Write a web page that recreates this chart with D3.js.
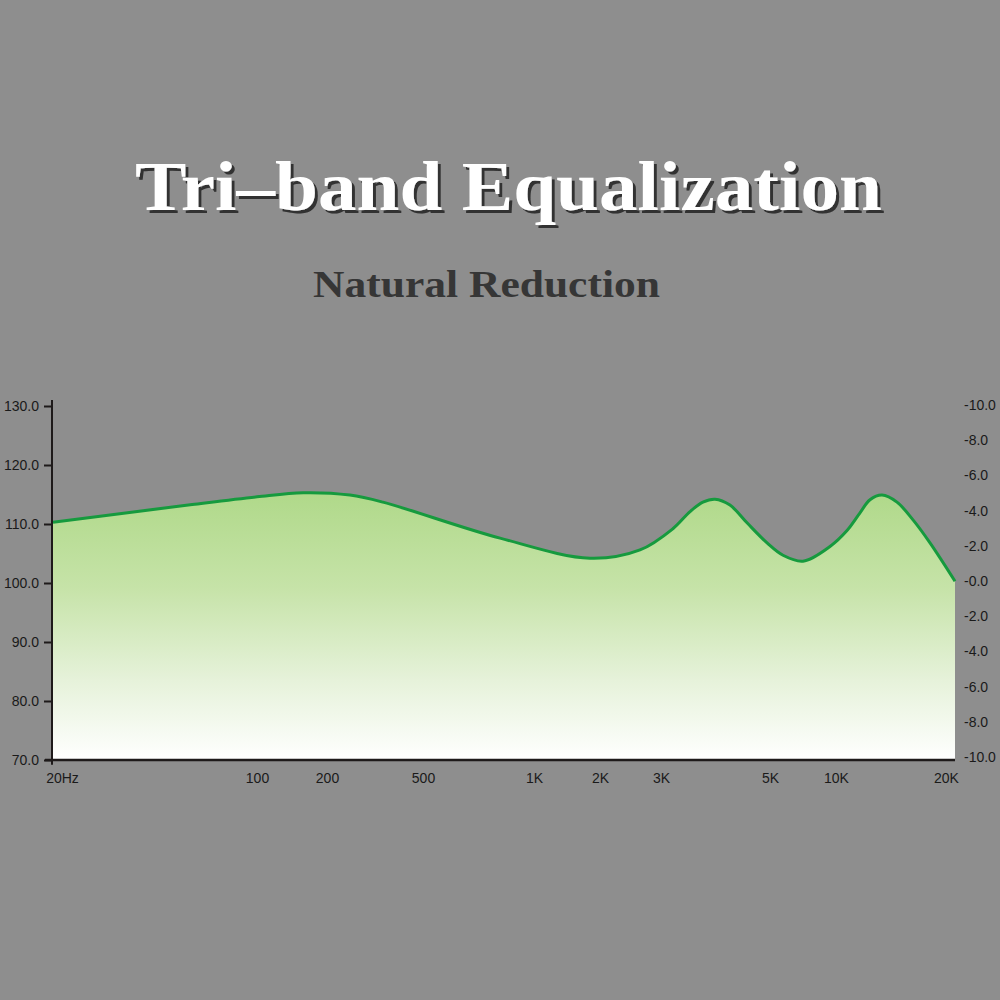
<!DOCTYPE html>
<html><head><meta charset="utf-8">
<script src="https://cdn.jsdelivr.net/npm/d3@7"></script>
<style>html,body{margin:0;padding:0;background:#8e8e8e;}svg{display:block;}</style>
</head><body>
<script>
// ---- data ----
const title = "Tri–band Equalization";
const subtitle = "Natural Reduction";
const freqTicks = [20, 100, 200, 500, 1000, 2000, 3000, 5000, 10000, 20000];
const freqLabels = ["20Hz", "100", "200", "500", "1K", "2K", "3K", "5K", "10K", "20K"];
const leftTicks = [70, 80, 90, 100, 110, 120, 130];
const rightTickLabels = ["-10.0", "-8.0", "-6.0", "-4.0", "-2.0", "-0.0", "-2.0", "-4.0", "-6.0", "-8.0", "-10.0"];
const curveFreq = [20, 60, 100, 158, 249, 341, 809, 1800, 2609, 3172, 3437, 3651, 3865, 4145, 4489, 4931, 5731, 7071, 9389, 10662, 11500, 12190, 13075, 14265, 15660, 17290, 20000];
const curveDb   = [110.3, 113.3, 114.6, 115.3, 114.9, 113.7, 107.6, 104.2, 105.6, 109.2, 112.1, 113.7, 114.2, 113.2, 110.2, 106.8, 104.7, 103.7, 106.2, 108.9, 111.9, 114.1, 114.9, 113.7, 110.7, 106.8, 100.3];

const W = 1000, H = 1000;
const svg = d3.select("body").append("svg").attr("width", W).attr("height", H);
svg.append("rect").attr("width", W).attr("height", H).attr("fill", "#8e8e8e");

const defs = svg.append("defs");
const sh = defs.append("filter").attr("id", "shadow").attr("x", "-5%").attr("y", "-20%").attr("width", "110%").attr("height", "140%");
sh.append("feDropShadow").attr("dx", 3).attr("dy", 3).attr("stdDeviation", 0.6).attr("flood-color", "#333333").attr("flood-opacity", 1);

// title + subtitle
const tg = svg.append("g").attr("font-family", "'Liberation Serif','Times New Roman',serif").attr("font-weight", "bold");
tg.append("text").attr("x", 135).attr("y", 210).attr("font-size", 70).attr("fill", "#ffffff")
  .attr("filter", "url(#shadow)")
  .attr("textLength", 747).attr("lengthAdjust", "spacingAndGlyphs").text(title);
tg.append("text").attr("x", 313).attr("y", 297).attr("font-size", 38).attr("fill", "#363636")
  .attr("textLength", 347).attr("lengthAdjust", "spacingAndGlyphs").text(subtitle);

// scales
const tickPos = [53, 257, 327, 423, 534, 600, 661, 770, 836, 955];
const xl = d3.scaleLinear().domain(freqTicks.map(Math.log10)).range(tickPos);
const x = f => xl(Math.log10(f));
const y = d3.scaleLinear().domain([70, 130]).range([760, 406]);
const yR = d3.scaleLinear().domain([0, rightTickLabels.length - 1]).range([405, 757]);

// gradient
const grad = defs.append("linearGradient").attr("id", "fillg").attr("gradientUnits", "userSpaceOnUse")
  .attr("x1", 0).attr("y1", y(115)).attr("x2", 0).attr("y2", y(70));
grad.append("stop").attr("offset", "0").attr("stop-color", "#b0d98a");
grad.append("stop").attr("offset", "0.35").attr("stop-color", "#c6e3a8");
grad.append("stop").attr("offset", "0.7").attr("stop-color", "#e6f2da");
grad.append("stop").attr("offset", "1").attr("stop-color", "#ffffff");

const data = curveFreq.map((f, i) => ({f, v: curveDb[i]}));
const crv = d3.curveCatmullRom.alpha(0.5);
const area = d3.area().x(d => x(d.f)).y0(y(70)).y1(d => y(d.v)).curve(crv);
const line = d3.line().x(d => x(d.f)).y(d => y(d.v)).curve(crv);
svg.append("path").datum(data).attr("d", area).attr("fill", "url(#fillg)");
svg.append("path").datum(data).attr("d", line).attr("fill", "none").attr("stroke", "#169a3e").attr("stroke-width", 3).attr("stroke-linejoin", "round");

// left axis
const lg = svg.append("g").attr("transform", "translate(52,0)");
lg.call(d3.axisLeft(y).tickValues(leftTicks).tickFormat(d3.format(".1f")).tickSize(8).tickPadding(5));
lg.select(".domain").attr("d", `M0,${y(131)}V${y(69.2)}`).attr("stroke", "#1e1a1a").attr("stroke-width", 2);
lg.selectAll(".tick line").attr("stroke", "#1e1a1a").attr("stroke-width", 2);
lg.selectAll(".tick text").attr("font-family", "'Liberation Sans',Arial,sans-serif").attr("font-size", 14).attr("fill", "#1a1a1a").attr("dy", "0.35em");

// bottom axis
const bg = svg.append("g").attr("transform", `translate(0,${y(70)})`);
bg.call(d3.axisBottom(xl).tickValues(freqTicks.map(Math.log10)).tickSize(0).tickPadding(13)
  .tickFormat((d, i) => freqLabels[i]));
bg.select(".domain").attr("d", `M45,0H955`).attr("stroke", "#1e1a1a").attr("stroke-width", 2.5);
bg.selectAll(".tick text").attr("font-family", "'Liberation Sans',Arial,sans-serif").attr("font-size", 14).attr("fill", "#1a1a1a")
  .attr("dx", (d, i) => i === 0 ? 9 : (i === freqTicks.length - 1 ? -9 : 0));

// right axis labels
const rg = svg.append("g").attr("font-family", "'Liberation Sans',Arial,sans-serif").attr("font-size", 14).attr("fill", "#1a1a1a");
rg.selectAll("text").data(rightTickLabels).join("text")
  .attr("x", 964).attr("y", (d, i) => yR(i)).attr("dy", "0.35em").text(d => d);
</script>
</body></html>
